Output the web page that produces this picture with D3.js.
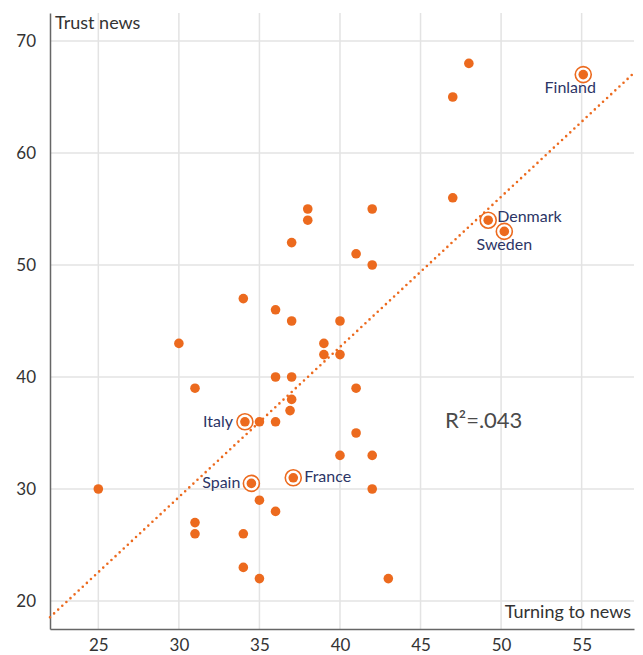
<!DOCTYPE html>
<html>
<head>
<meta charset="utf-8">
<script src="https://cdn.jsdelivr.net/npm/d3@7"></script>
<style>
  html, body { margin: 0; padding: 0; background: #fff; }
  svg { display: block; font-family: Lato, "Open Sans", sans-serif; }
</style>
</head>
<body>
<svg id="chart" width="643" height="655"></svg>
<script>
// ---- data ----
const turningToNews = [25,30,31,31,31,34,34,34,34.1,35,34.5,35,35,36,36,36,36,37,37,37,37,36.9,37.1,38,38,39,39,40,40,40,41,41,41,42,42,42,42,43,47,47,48,49.2,50.2,55.1];
const trustNews     = [30,43,39,27,26,47,26,23,36,36,30.5,29,22,46,40,36,28,52,45,40,38,37,31,55,54,43,42,45,42,33,51,39,35,55,50,33,30,22,65,56,68,54,53,67];
const countryLabels = ["","","","","","","","","Italy","","Spain","","","","","","","","","","","","France","","","","","","","","","","","","","","","","","","","Denmark","Sweden","Finland"];
const xTicks = [25,30,35,40,45,50,55];
const yTicks = [20,30,40,50,60,70];
const trendX = [22, 58.25];
const trendY = [18.55, 67.15];
const rSquaredText = "R\u00b2=.043";
const xAxisTitle = "Turning to news";
const yAxisTitle = "Trust news";

// ---- layout ----
const svg = d3.select("#chart");
const pLeft = 50, pRight = 634, pTop = 13, pBottom = 629;
const x = d3.scaleLinear().domain([22, 58.25]).range([pLeft, pRight]);
const y = d3.scaleLinear().domain([17.5, 72.5]).range([pBottom, pTop]);
const orange = "#EC6A1E";
const navy = "#2C3566";

// grid
svg.append("g").selectAll("line").data(xTicks).join("line")
  .attr("x1", d => x(d)).attr("x2", d => x(d)).attr("y1", pTop).attr("y2", pBottom)
  .attr("stroke", "#e3e3e3").attr("stroke-width", 1.5);
svg.append("g").selectAll("line").data(yTicks).join("line")
  .attr("x1", pLeft).attr("x2", pRight).attr("y1", d => y(d)).attr("y2", d => y(d))
  .attr("stroke", "#e3e3e3").attr("stroke-width", 1.5);

// axes
const xAxis = svg.append("g").attr("transform", `translate(0,${pBottom})`)
  .call(d3.axisBottom(x).tickValues(xTicks).tickSize(0).tickPadding(10));
const yAxis = svg.append("g").attr("transform", `translate(${pLeft},0)`)
  .call(d3.axisLeft(y).tickValues(yTicks).tickSize(0).tickPadding(14));
[xAxis, yAxis].forEach(g => {
  g.select(".domain").attr("stroke", "#666").attr("stroke-width", 1.5);
  g.selectAll("text").attr("font-family", "Lato, sans-serif").attr("font-size", 17).attr("fill", "#333");
});

// axis titles
svg.append("text").attr("x", pLeft + 5).attr("y", 29)
  .attr("font-size", 18).attr("fill", "#333").text(yAxisTitle);
svg.append("text").attr("x", pRight - 3).attr("y", 618).attr("text-anchor", "end")
  .attr("font-size", 18).attr("fill", "#333").text(xAxisTitle);

// trend line
svg.append("line")
  .attr("x1", x(trendX[0])).attr("y1", y(trendY[0]))
  .attr("x2", x(trendX[1])).attr("y2", y(trendY[1]))
  .attr("stroke", orange).attr("stroke-width", 2.6)
  .attr("stroke-linecap", "round").attr("stroke-dasharray", "0 5.6");

// R squared
svg.append("text").attr("x", 445).attr("y", 428)
  .attr("font-size", 22).attr("fill", "#4a4a4a").text(rSquaredText);

const pts = turningToNews.map((t, i) => ({ t, v: trustNews[i], name: countryLabels[i] }));

// highlight rings
svg.append("g").selectAll("circle").data(pts.filter(d => d.name)).join("circle")
  .attr("cx", d => x(d.t)).attr("cy", d => y(d.v)).attr("r", 8)
  .attr("fill", "#fff").attr("stroke", orange).attr("stroke-width", 1.6);

// dots
svg.append("g").selectAll("circle").data(pts).join("circle")
  .attr("cx", d => x(d.t)).attr("cy", d => y(d.v)).attr("r", 4.8)
  .attr("fill", orange);

// labels
const labelPos = {
  "Finland": { dx: -13, dy: 18, anchor: "middle" },
  "Denmark": { dx: 9, dy: 2, anchor: "start" },
  "Sweden":  { dx: 0, dy: 19, anchor: "middle" },
  "Italy":   { dx: -12, dy: 5, anchor: "end" },
  "Spain":   { dx: -11, dy: 5, anchor: "end" },
  "France":  { dx: 11, dy: 4, anchor: "start" }
};
svg.append("g").selectAll("text").data(pts.filter(d => d.name)).join("text")
  .attr("x", d => x(d.t) + labelPos[d.name].dx)
  .attr("y", d => y(d.v) + labelPos[d.name].dy)
  .attr("text-anchor", d => labelPos[d.name].anchor)
  .attr("font-size", 16).attr("fill", navy)
  .text(d => d.name);
</script>
</body>
</html>
